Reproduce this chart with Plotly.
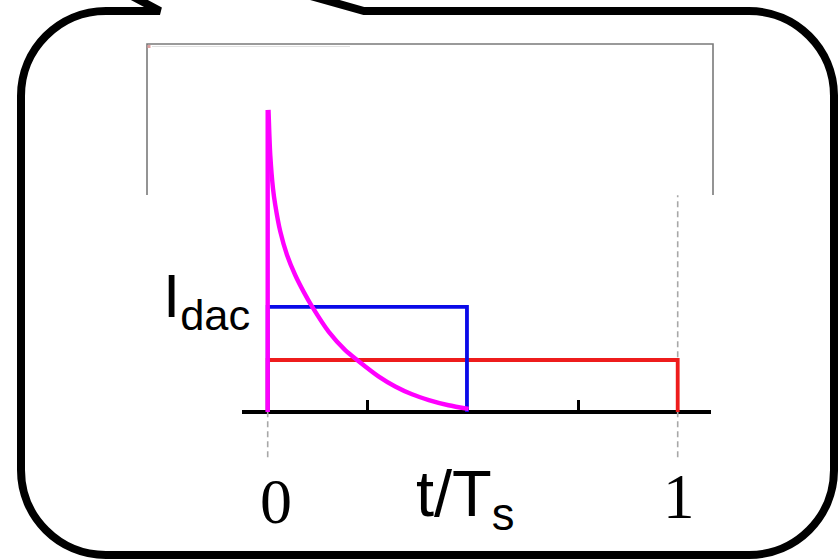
import plotly.graph_objects as go

W, H = 838, 559

# ---- data (t/Ts on x, current in units of the red level on y) ----
t_red = [0, 0, 1, 1]
i_red = [0, 1, 1, 0]
t_blue = [0, 0, 0.486, 0.486]
i_blue = [0, 2.02, 2.02, 0]
t_mag = [0.002, 0.004, 0.0063, 0.0129, 0.0185, 0.0307, 0.0471, 0.0673, 0.0878,
         0.108, 0.149, 0.189, 0.218, 0.271, 0.311, 0.352, 0.393, 0.441, 0.490]
i_mag = [5.81, 5.35, 4.94, 4.30, 3.98, 3.47, 3.02, 2.63, 2.31,
         2.03, 1.54, 1.19, 1.00, 0.68, 0.49, 0.34, 0.23, 0.13, 0.06]
i_peak = 5.81
tick_t = [0.243, 0.759]
guide_t = [0, 1]
guide_i = [-0.87, 4.17]
x_labels = ["0", "1"]
x_title = "t/T<sub>s</sub>"
y_title = "I<sub>dac</sub>"


def px(x):
    return x / W


def py(y):
    return 1 - y / H


def pt(x, y):
    return f"{px(x):.5f},{py(y):.5f}"


fig = go.Figure()

for t in guide_t:
    fig.add_trace(go.Scatter(x=[t, t], y=guide_i, mode="lines",
                             line=dict(color="#a8a8a8", width=1.6, dash="6px,4px"),
                             showlegend=False, hoverinfo="skip"))

fig.add_trace(go.Scatter(x=t_red, y=i_red, mode="lines",
                         line=dict(color="#ee1c1c", width=3.8), showlegend=False))
fig.add_trace(go.Scatter(x=t_blue, y=i_blue, mode="lines",
                         line=dict(color="#0a0ae8", width=3.8), showlegend=False))
# magenta pulse: vertical rise, then decaying tail
fig.add_trace(go.Scatter(x=[0, 0], y=[0, i_peak], mode="lines",
                         line=dict(color="#ff00ff", width=4.4), showlegend=False))
fig.add_trace(go.Scatter(x=t_mag, y=i_mag, mode="lines",
                         line=dict(color="#ff00ff", width=4.4, shape="spline",
                                   smoothing=0.7),
                         showlegend=False))

# speech bubble outline
r = 85
k = 0.5523
L, R, T, B = 21, 834, 11, 555
path = (
    f"M {pt(130, -5)} L {pt(160, T)} L {pt(L + r, T)} "
    f"C {pt(L + r - r * k, T)} {pt(L, T + r - r * k)} {pt(L, T + r)} "
    f"L {pt(L, B - r)} "
    f"C {pt(L, B - r + r * k)} {pt(L + r - r * k, B)} {pt(L + r, B)} "
    f"L {pt(R - r, B)} "
    f"C {pt(R - r + r * k, B)} {pt(R, B - r + r * k)} {pt(R, B - r)} "
    f"L {pt(R, T + r)} "
    f"C {pt(R, T + r - r * k)} {pt(R - r + r * k, T)} {pt(R - r, T)} "
    f"L {pt(364, T)} L {pt(300, -7)}"
)
shapes = [
    dict(type="path", xref="paper", yref="paper", path=path,
         line=dict(color="black", width=8), fillcolor="rgba(0,0,0,0)"),
    # remnant frame of the embedded picture
    dict(type="path", xref="paper", yref="paper",
         path=f"M {pt(147, 195)} L {pt(147, 44)} L {pt(713, 44)} L {pt(713, 195)}",
         line=dict(color="#7a7a7a", width=1.6), fillcolor="rgba(0,0,0,0)"),
    dict(type="line", xref="paper", yref="paper",
         x0=px(152), x1=px(350), y0=py(46.5), y1=py(46.5),
         line=dict(color="#e0e0e0", width=1)),
    dict(type="rect", xref="paper", yref="paper",
         x0=px(147.5), x1=px(150.5), y0=py(45), y1=py(48),
         line=dict(width=0), fillcolor="#e0a0a0"),
]

annotations = [
    dict(text=y_title, xref="paper", yref="paper", x=px(161), y=py(300),
         xanchor="left", yanchor="middle", showarrow=False,
         font=dict(family="Liberation Sans", size=62, color="black")),
    dict(text=x_title, xref="paper", yref="paper", x=px(465), y=py(498),
         xanchor="center", yanchor="middle", showarrow=False,
         font=dict(family="Liberation Sans", size=65, color="black")),
    dict(text=x_labels[0], xref="paper", yref="paper", x=px(276), y=py(501),
         xanchor="center", yanchor="middle", showarrow=False,
         font=dict(family="Liberation Serif", size=64, color="black")),
    dict(text=x_labels[1], xref="paper", yref="paper", x=px(679), y=py(497),
         xanchor="center", yanchor="middle", showarrow=False,
         font=dict(family="Liberation Serif", size=63, color="black")),
]

x0_px, x1_px, zero_px, one_px = 242, 711, 267.7, 677.7
unit_x = one_px - zero_px
axis_py, unit_y = 412, 52

fig.update_layout(
    width=W, height=H,
    margin=dict(l=0, r=0, t=0, b=0),
    paper_bgcolor="white", plot_bgcolor="rgba(0,0,0,0)",
    shapes=shapes, annotations=annotations,
    xaxis=dict(domain=[px(x0_px), px(x1_px)],
               range=[(x0_px - zero_px) / unit_x, (x1_px - zero_px) / unit_x],
               anchor="free", position=py(axis_py),
               showline=True, linecolor="black", linewidth=3.6,
               showgrid=False, zeroline=False,
               tickvals=guide_t, ticks="", showticklabels=False,
               minor=dict(tickvals=tick_t, ticks="inside", ticklen=10,
                          tickwidth=3, tickcolor="black", showgrid=False),
               layer="below traces", fixedrange=True),
    yaxis=dict(domain=[0, 1],
               range=[(axis_py - H) / unit_y, axis_py / unit_y],
               visible=False, fixedrange=True),
)

fig.write_html("out.html", config={"displayModeBar": False},
               post_script="document.body.style.margin='0px';"
                           "document.body.style.overflow='hidden';")
